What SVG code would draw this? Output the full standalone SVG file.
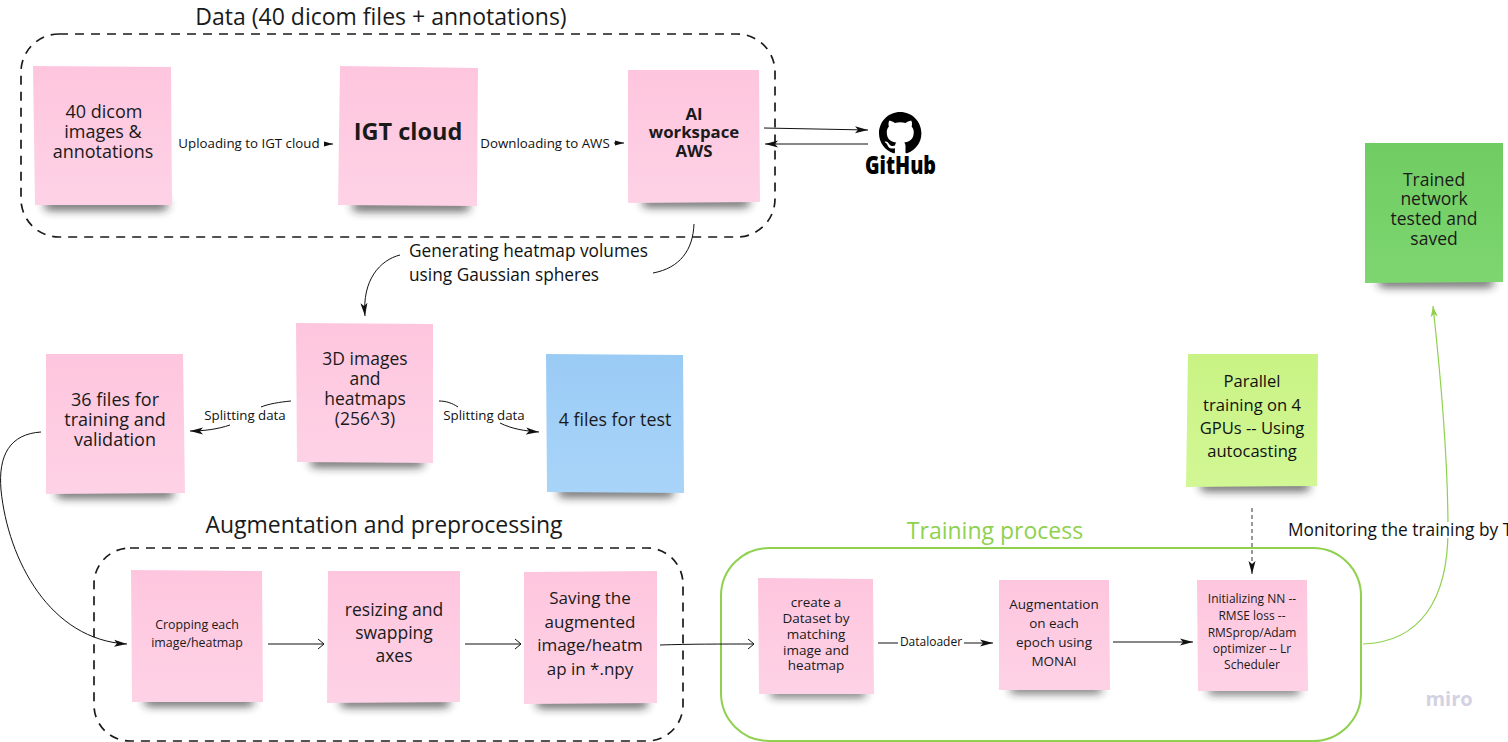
<svg xmlns="http://www.w3.org/2000/svg" width="1508" height="742" viewBox="0 0 1508 742">
<style>
text{font-family:"Open Sans","Noto Sans","Liberation Sans",sans-serif;fill:#1a1a1a;text-anchor:middle}
.ttl{font-size:23px}
.lbl{font-size:13.3px;fill:#111}
.lb2{font-size:17.3px;fill:#111}
.dash{fill:none;stroke:#1a1a1a;stroke-width:1.7;stroke-dasharray:9 7}
.c{fill:none;stroke:#111;stroke-width:1}
.g{fill:none;stroke:#8fd14f;stroke-width:1.2}
.sh{fill:#222;opacity:.72;filter:url(#b)}
.pink{fill:url(#p)}
.n18{font-size:18px}.n17{font-size:17.5px}.n13{font-size:13.5px}.n12{font-size:12px}
</style>
<defs>
<linearGradient id="p" x1="0" y1="0" x2="0" y2="1"><stop offset="0" stop-color="#fec6de"/><stop offset="1" stop-color="#fed2e6"/></linearGradient>
<linearGradient id="bl" x1="0" y1="0" x2="0" y2="1"><stop offset="0" stop-color="#9acbf5"/><stop offset="1" stop-color="#a9d4f9"/></linearGradient>
<linearGradient id="lg" x1="0" y1="0" x2="0" y2="1"><stop offset="0" stop-color="#c9f384"/><stop offset="1" stop-color="#d2f795"/></linearGradient>
<linearGradient id="dg" x1="0" y1="0" x2="0" y2="1"><stop offset="0" stop-color="#6fcc62"/><stop offset="1" stop-color="#7ed670"/></linearGradient>
<filter id="b" x="-20%" y="-300%" width="140%" height="700%"><feGaussianBlur stdDeviation="5"/></filter>
<marker id="a" markerWidth="14" markerHeight="8" refX="13" refY="4" orient="auto" markerUnits="userSpaceOnUse"><path d="M0 .5L13 4L0 7.500L3 4z" fill="#111"/></marker>
<marker id="s" markerWidth="9" markerHeight="6" refX="9" refY="3" orient="auto" markerUnits="userSpaceOnUse"><path d="M0 .5L9 3L0 5.500z" fill="#111"/></marker>
<marker id="o" markerWidth="8" markerHeight="12" refX="7" refY="6" orient="auto" markerUnits="userSpaceOnUse"><path d="M1 1L7 6L1 11" fill="none" stroke="#111"/></marker>
<marker id="ga" markerWidth="12" markerHeight="8" refX="11" refY="4" orient="auto" markerUnits="userSpaceOnUse"><path d="M0 .5L11 4L0 7.500L3 4z" fill="#8fd14f"/></marker>
</defs>
<g id="group-data"><rect class="dash" x="21" y="34" width="754" height="203" rx="38"/><text class="ttl" x="381" y="25">Data (40 dicom files + annotations)</text></g>
<g id="group-aug"><rect class="dash" x="94" y="548" width="589" height="193" rx="36"/><text class="ttl" x="384" y="533">Augmentation and preprocessing</text></g>
<g id="group-train"><rect x="721" y="548" width="640" height="193" rx="48" fill="none" stroke="#8fd14f" stroke-width="2"/><text class="ttl" x="995" y="539" style="fill:#8fd14f">Training process</text></g>

<g id="connectors">
<path class="c" d="M324 144H333" marker-end="url(#s)"/>
<path class="c" d="M614 143H624" marker-end="url(#s)"/>
<path class="c" d="M764 128L868 130" marker-end="url(#a)"/>
<path class="c" d="M868 144H765" marker-end="url(#a)"/>
<path class="c" d="M694 224C693 250 680 268 653 273"/>
<path class="c" d="M400 255C380 260 362 280 365 316" marker-end="url(#a)"/>
<path class="c" d="M291 401C280 402 268 404 261 407"/>
<path class="c" d="M230 425C218 429 205 431 190 431" marker-end="url(#a)"/>
<path class="c" d="M439 401C446 401 452 403 458 407"/>
<path class="c" d="M500 423C512 429 525 431 539 432" marker-end="url(#a)"/>
<path class="c" d="M41 432C10 434 -2 455 1 490C8 560 50 640 127 644" marker-end="url(#a)"/>
<path class="c" d="M268 644H324" marker-end="url(#o)"/>
<path class="c" d="M465 644H521" marker-end="url(#o)"/>
<path class="c" d="M660 645C690 644 720 644 754 644" marker-end="url(#o)"/>
<path class="c" d="M878 643H898"/>
<path class="c" d="M964 643H993" marker-end="url(#a)"/>
<path class="c" d="M1113 642H1193" marker-end="url(#a)"/>
<path d="M1252 508V574" fill="none" stroke="#333" stroke-width="1" stroke-dasharray="4 3" marker-end="url(#a)"/>
<path class="g" d="M1363 644C1420 642 1448 600 1448 530C1448 450 1440 370 1433 306" marker-end="url(#ga)"/>
</g>
<rect x="1286" y="522" width="222" height="16" fill="#fff"/>

<g id="note-dicom"><rect class="sh" x="44" y="200" width="124" height="10" rx="5"/><polygon class="pink" points="33,66 171,67 172,205 35,205"/><text class="n18"><tspan x="104" y="118">40 dicom</tspan><tspan x="103" y="138">images &amp;</tspan><tspan x="103" y="158">annotations</tspan></text></g>
<g id="note-igt"><rect class="sh" x="352" y="201" width="118" height="10" rx="5"/><polygon class="pink" points="340,66 478,68 477,206 338,205"/><text x="408" y="140" style="font-size:23.5px;font-weight:700">IGT cloud</text></g>
<g id="note-ai"><rect class="sh" x="642" y="197" width="108" height="10" rx="5"/><polygon class="pink" points="628,70 759,70 760,202 628,203"/><text style="font-size:16.8px;font-weight:700"><tspan x="694" y="120">AI</tspan><tspan x="694" y="138">workspace</tspan><tspan x="694" y="157">AWS</tspan></text></g>
<g id="note-3d"><rect class="sh" x="310" y="457" width="114" height="10" rx="5"/><polygon class="pink" points="296,323 433,324 433,463 297,462"/><text class="n17"><tspan x="365" y="365">3D images</tspan><tspan x="365" y="385">and</tspan><tspan x="365" y="405">heatmaps</tspan><tspan x="365" y="425">(256^3)</tspan></text></g>
<g id="note-36"><rect class="sh" x="56" y="488" width="118" height="10" rx="5"/><polygon class="pink" points="46,354 183,354 185,493 46,494"/><text class="n18"><tspan x="115" y="406">36 files for</tspan><tspan x="115" y="426">training and</tspan><tspan x="115" y="446">validation</tspan></text></g>
<g id="note-test"><rect class="sh" x="558" y="487" width="116" height="10" rx="5"/><polygon fill="url(#bl)" points="546,354 683,355 684,493 547,492"/><text x="615" y="426" style="font-size:17.8px">4 files for test</text></g>
<g id="note-crop"><rect class="sh" x="144" y="696" width="110" height="10" rx="5"/><polygon class="pink" points="131,570 262,571 263,702 132,702"/><text style="font-size:12.4px"><tspan x="197" y="629">Cropping each</tspan><tspan x="197" y="647">image/heatmap</tspan></text></g>
<g id="note-resize"><rect class="sh" x="340" y="697" width="110" height="10" rx="5"/><polygon class="pink" points="328,571 460,571 460,702 327,703"/><text class="n17"><tspan x="394" y="616">resizing and</tspan><tspan x="394" y="639">swapping</tspan><tspan x="394" y="662">axes</tspan></text></g>
<g id="note-saving"><rect class="sh" x="536" y="698" width="112" height="10" rx="5"/><polygon class="pink" points="524,572 657,571 657,703 524,704"/><text style="font-size:17px"><tspan x="590" y="604">Saving the</tspan><tspan x="590" y="628">augmented</tspan><tspan x="590" y="651">image/heatm</tspan><tspan x="590" y="675">ap in *.npy</tspan></text></g>
<g id="note-dataset"><rect class="sh" x="770" y="689" width="96" height="8" rx="4"/><polygon class="pink" points="758,578 873,579 874,694 759,694"/><text class="n13"><tspan x="816" y="607">create a</tspan><tspan x="816" y="623">Dataset by</tspan><tspan x="816" y="639">matching</tspan><tspan x="816" y="655">image and</tspan><tspan x="816" y="670">heatmap</tspan></text></g>
<g id="note-monai"><rect class="sh" x="1010" y="685" width="92" height="8" rx="4"/><polygon class="pink" points="999,580 1109,580 1110,690 999,690"/><text class="n13"><tspan x="1054" y="609">Augmentation</tspan><tspan x="1054" y="628">on each</tspan><tspan x="1054" y="647">epoch using</tspan><tspan x="1054" y="666">MONAI</tspan></text></g>
<g id="note-init"><rect class="sh" x="1208" y="686" width="92" height="8" rx="4"/><polygon class="pink" points="1197,580 1307,580 1308,691 1198,691"/><text class="n12"><tspan x="1252" y="603">Initializing NN --</tspan><tspan x="1252" y="620">RMSE loss --</tspan><tspan x="1252" y="637">RMSprop/Adam</tspan><tspan x="1252" y="653">optimizer -- Lr</tspan><tspan x="1252" y="669">Scheduler</tspan></text></g>
<g id="note-parallel"><rect class="sh" x="1200" y="481" width="110" height="10" rx="5"/><polygon fill="url(#lg)" points="1188,354 1318,354 1317,486 1186,487"/><text style="font-size:16.6px;fill:#111"><tspan x="1252" y="387">Parallel</tspan><tspan x="1252" y="411">training on 4</tspan><tspan x="1252" y="434">GPUs -- Using</tspan><tspan x="1252" y="457">autocasting</tspan></text></g>
<g id="note-trained"><rect class="sh" x="1378" y="277" width="116" height="10" rx="5"/><polygon fill="url(#dg)" points="1365,143 1503,143 1503,282 1365,283"/><text class="n17"><tspan x="1434" y="186">Trained</tspan><tspan x="1434" y="205">network</tspan><tspan x="1434" y="225">tested and</tspan><tspan x="1434" y="245">saved</tspan></text></g>
<g id="node-github"><path transform="translate(879 112) scale(2.65)" fill="#000" d="M8 0C3.58 0 0 3.58 0 8c0 3.54 2.29 6.53 5.470 7.590.4.07.55-.17.55-.38 0-.19-.01-.82-.01-1.490-2.010.37-2.530-.49-2.690-.94-.09-.23-.48-.94-.82-1.130-.28-.15-.68-.52-.01-.53.63-.01 1.080.58 1.230.82.72 1.210 1.870.87 2.330.66.07-.52.28-.87.51-1.070-1.780-.2-3.640-.89-3.640-3.950 0-.87.31-1.590.82-2.150-.08-.2-.36-1.020.08-2.120 0 0 .67-.21 2.200.82.64-.18 1.320-.27 2-.27.68 0 1.360.09 2 .27 1.530-1.040 2.200-.82 2.200-.82.44 1.100.16 1.920.08 2.120.51.56.82 1.270.82 2.150 0 3.070-1.870 3.750-3.650 3.950.29.25.54.73.54 1.480 0 1.070-.01 1.930-.01 2.200 0 .21.15.46.55.38A8.013 8.013 0 0016 8c0-4.420-3.580-8-8-8z"/><text x="865" y="174" textLength="71" lengthAdjust="spacingAndGlyphs" style="font-size:24px;font-weight:800;fill:#000;text-anchor:start">GitHub</text></g>
<g id="labels">
<text class="lbl" x="249" y="148">Uploading to IGT cloud</text>
<text class="lbl" x="545" y="148">Downloading to AWS</text>
<text class="lb2" x="409" y="257" style="text-anchor:start">Generating heatmap volumes</text>
<text class="lb2" x="409" y="281" style="text-anchor:start">using Gaussian spheres</text>
<text class="lbl" x="245" y="420">Splitting data</text>
<text class="lbl" x="484" y="420">Splitting data</text>
<text x="931" y="646" style="font-size:12px;fill:#111">Dataloader</text>
<text class="lb2" x="1288" y="536" style="text-anchor:start">Monitoring the training by T</text>
<text x="1449" y="706" style="font-size:20px;font-weight:700;fill:#d3d2e3">miro</text>
</g>
</svg>
